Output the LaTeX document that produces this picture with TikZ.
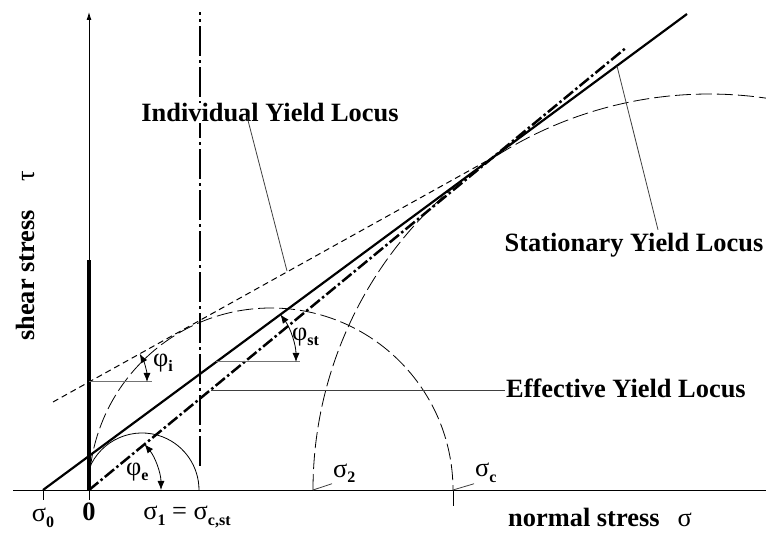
\documentclass[tikz,border=0pt]{standalone}
\usepackage{fontspec}
\setmainfont{Liberation Serif}
\usetikzlibrary{positioning,calc,arrows.meta}

\newcommand{\lblsub}[1]{\raisebox{-0.45ex}{\fontsize{16}{16}\selectfont\bfseries #1}}

\begin{document}
\begin{tikzpicture}[x=1pt, y=1pt,
  lbl/.style={font=\fontsize{26.4}{29}\selectfont\bfseries, inner sep=1pt},
  sym/.style={font=\fontsize{26.4}{29}\selectfont, inner sep=1pt},
  leader/.style={line width=0.8pt, black!75},
  refline/.style={line width=1pt, black!55},
  circ/.style={line width=0.8pt, dash pattern=on 16pt off 5pt},
  angarr/.style={line width=0.8pt, {Latex[length=9pt,width=7pt]}-{Latex[length=9pt,width=7pt]}}
]
\useasboundingbox (0,0) rectangle (766,533);

% Axes
\draw[line width=0.9pt] (13,43) -- (766,43);
\draw[line width=0.9pt, -{Latex[length=8pt,width=5pt]}] (89,43) -- (89,521);
\draw[line width=4pt] (89,43) -- (89,273);
\draw[line width=0.9pt] (43,43) -- (43,33);
\draw[line width=0.9pt] (89,43) -- (89,33);
\draw[line width=0.9pt] (453,43) -- (453,27);

% sigma_1 = sigma_c,st
\draw[line width=1.1pt, dash pattern=on 30pt off 4pt on 3pt off 4pt] (200,67) -- (200,521);

% Mohr circles
\draw[circ] (313,43) arc[start angle=180, end angle=81.7, radius=396];
\draw[circ] (89,43) arc[start angle=180, end angle=0, radius=182];
\draw[line width=0.8pt] (89,64) arc[start angle=158.4, end angle=0, radius=57];

% Yield loci
\coordinate (T) at (492,375);
\draw[line width=1pt, dash pattern=on 6pt off 4pt] (53,131) -- (T);
\draw[line width=2.2pt] (43,43) -- (687,519);
\draw[line width=2.5pt, dash pattern=on 12pt off 3pt on 2.5pt off 3pt] (89,43) -- (627,486);

% Angles
\draw[refline] (89,151) -- (152,151);
\draw[angarr] ($(89,151)+(29.06:58)$) arc[start angle=29.06, end angle=0, radius=58];
\node[sym, anchor=west] (phii) at (152,170) {φ\lblsub{i}};

\draw[refline] (216,171) -- (300,171);
\draw[angarr] ($(216,171)+(36.48:80)$) arc[start angle=36.48, end angle=0, radius=80];
\node[sym, anchor=west] (phist) at (291,196) {φ\lblsub{st}};

\draw[angarr] ($(89,43)+(39.48:72)$) arc[start angle=39.48, end angle=0, radius=72];
\node[sym, anchor=west] (phie) at (125,61) {φ\lblsub{e}};

% Labels on the loci
\node[lbl, fill=white] (indiv) at (270,420) {Individual Yield Locus};
\coordinate (indivpt) at (287,262);
\draw[leader] ($(indiv.south)+(-23,7)$) -- (indivpt);

\node[lbl] (stat) at (634,288) {Stationary Yield Locus};
\coordinate (statpt) at (617,467);
\draw[leader] ($(stat.north)+(24,2)$) -- (statpt);

\node[lbl, anchor=west] (eff) at (505,145) {Effective Yield Locus};
\coordinate (effpt) at (211,143);
\draw[leader] (effpt) -- (eff.west |- effpt);

% Stresses on the sigma axis
\node[sym] (sig0) at (43,15) {σ\lblsub{0}};
\node[sym] (zero) at (89,21) {\textbf{0}};
\node[sym] (sig1) at (187,16) {σ\lblsub{1} = σ\lblsub{c,st}};
\node[sym, anchor=west] (sig2) at (332,60) {σ\lblsub{2}};
\node[sym, anchor=west] (sigc) at (474,60) {σ\lblsub{c}};
\coordinate (sig2pt) at (313,43);
\coordinate (sigcpt) at (453,43);
\draw[leader] (sig2pt) -- (sig2.south west);
\draw[leader] (sigcpt) -- (sigc.south west);

% Axis titles
\node[sym] (sigax) at (600,16) {\textbf{normal stress}\hspace{18pt}σ};
\node[sym, rotate=90] (tauax) at (25,277) {\textbf{shear stress}\hspace{28pt}τ};
\end{tikzpicture}
\end{document}
